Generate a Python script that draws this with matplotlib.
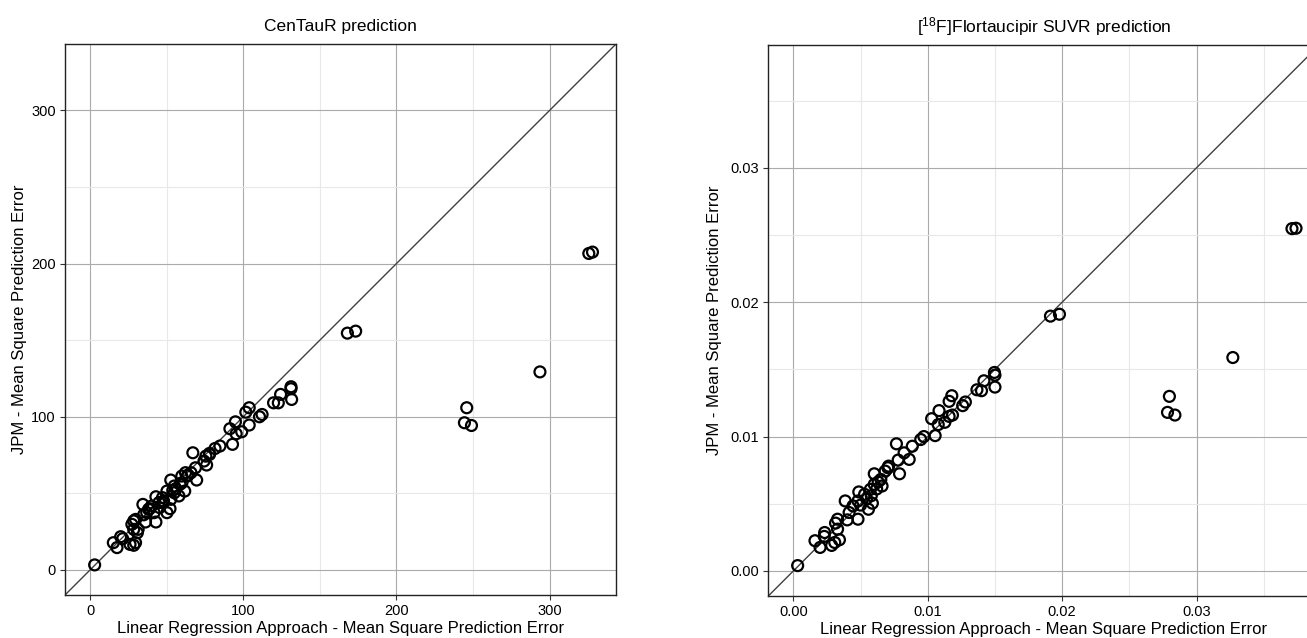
import matplotlib
matplotlib.use("Agg")
import matplotlib.pyplot as plt
from matplotlib.ticker import MultipleLocator, FixedLocator
import numpy as np

plt.rcParams['font.family'] = ['Liberation Sans', 'DejaVu Sans']
plt.rcParams['mathtext.fontset'] = 'custom'
plt.rcParams['mathtext.rm'] = 'Liberation Sans'

# ---- CenTauR data (Linear regression MSE, JPM MSE) ----
cen_lr = [3, 168, 173.4, 293.7, 245.9, 244.4, 249, 325.6, 328,
          131.2, 131.2, 131.6, 124.4, 119.8, 122.9, 112.3, 110.6, 103.9, 101.7,
          103.9, 99, 95.4, 94.9, 91.3, 93, 84.8, 81.6, 78, 76.1, 74.4, 67.1,
          68.8, 69.6, 62.3, 59.9, 61.8, 52.7, 55, 50.2, 58, 52.7, 47.3, 43,
          34.5, 40.1, 45.4, 52.2, 50.2, 37, 41.8, 36.2, 43, 28.5, 27.3, 28.5,
          30.9, 20, 15.2, 17.6, 21.3, 26.1, 29.7, 28.5, 31.4, 29.7, 38.2, 47.8,
          55, 58.7, 63.5, 65.9, 75.6, 78, 56, 54, 48, 45, 60, 64, 35, 39]
cen_jpm = [3.3, 154.6, 155.9, 129.3, 105.9, 96.1, 94.3, 206.6, 207.5,
           119.6, 118.3, 111.3, 114.6, 109.1, 109.1, 101.5, 100, 105.9, 103,
           94.6, 90.2, 88.9, 96.7, 92.2, 82, 80.9, 79.3, 76.1, 68.5, 71.1, 76.5,
           66.7, 58.7, 63.5, 61.3, 51.5, 58.7, 54.8, 51.5, 48.3, 46.1, 47.2, 47.8,
           42.8, 41.7, 40.7, 40, 37.4, 37.4, 37.4, 31.3, 31.3, 32, 29.8, 26.5,
           24.3, 21.7, 17.8, 14.6, 20.4, 16.7, 17.8, 16.1, 26.5, 33, 39.6, 43.9,
           50.4, 55.9, 61.3, 63.5, 74.3, 75.4, 53, 52, 45, 44, 57, 62, 36, 40]

# ---- [18F]Flortaucipir SUVR data ----
flo_lr = [0.00032, 0.01913, 0.0198, 0.0327, 0.02798, 0.02784, 0.02839, 0.0371, 0.0374,
          0.01496, 0.0150, 0.0150, 0.01418, 0.01366, 0.0140, 0.0128, 0.0126, 0.01179,
          0.01159, 0.01184, 0.01159, 0.01084, 0.01029, 0.01078, 0.01127, 0.01055,
          0.00971, 0.00948, 0.00885, 0.00862, 0.00824, 0.00767, 0.0078, 0.0079,
          0.00709, 0.00683, 0.00651, 0.00602, 0.00602, 0.00573, 0.0053, 0.00487,
          0.00588, 0.00559, 0.00481, 0.00444, 0.00386, 0.00415, 0.00481, 0.00401,
          0.00329, 0.00314, 0.00329, 0.00233, 0.00161, 0.00199, 0.0023, 0.00308,
          0.00343, 0.00285, 0.0066, 0.00703, 0.00631, 0.00545, 0.0062, 0.0058, 0.005]
flo_jpm = [0.0004, 0.01896, 0.0191, 0.01588, 0.01299, 0.0118, 0.0116, 0.02547, 0.0255,
           0.01477, 0.01457, 0.01368, 0.01415, 0.01348, 0.01341, 0.01257, 0.0123, 0.01304,
           0.01262, 0.0116, 0.0115, 0.01193, 0.01133, 0.01089, 0.01106, 0.01007,
           0.0100, 0.00978, 0.00928, 0.0083, 0.00879, 0.00946, 0.00825, 0.00723,
           0.0078, 0.00743, 0.00681, 0.00723, 0.00644, 0.00607, 0.0057, 0.00588,
           0.00504, 0.00459, 0.00521, 0.00484, 0.00521, 0.00435, 0.00385, 0.0038,
           0.00385, 0.00356, 0.00311, 0.00286, 0.00225, 0.00175, 0.00257, 0.00212,
           0.00232, 0.0019, 0.00632, 0.00768, 0.00662, 0.00538, 0.0061, 0.0056, 0.0049]

cen_ticks = [0, 100, 200, 300]
flo_ticks = [0.00, 0.01, 0.02, 0.03]
flo_ticklabels = ["0.00", "0.01", "0.02", "0.03"]

W, H = 1307, 638
fig = plt.figure(figsize=(W / 100, H / 100), dpi=100)

def panel(rect, x, y, lim, ticks, ticklabels, minor, title, ylabelpad):
    ax = fig.add_axes(rect)
    ax.set_xlim(lim)
    ax.set_ylim(lim)
    ax.xaxis.set_major_locator(FixedLocator(ticks))
    ax.yaxis.set_major_locator(FixedLocator(ticks))
    ax.xaxis.set_minor_locator(MultipleLocator(minor))
    ax.yaxis.set_minor_locator(MultipleLocator(minor))
    ax.set_xticklabels(ticklabels)
    ax.set_yticklabels(ticklabels)
    ax.grid(which='minor', color='#e8e8e8', lw=0.8)
    ax.grid(which='major', color='#aaaaaa', lw=0.8)
    ax.set_axisbelow(True)
    ax.tick_params(which='minor', length=0)
    ax.tick_params(which='major', length=3.5, width=0.8, color='#333333',
                   labelsize=10.5, pad=3)
    for s in ax.spines.values():
        s.set_color('#222222')
        s.set_linewidth(1.0)
    ax.axline((0, 0), slope=1, color='#404040', lw=1.0, zorder=2)
    ax.scatter(x, y, s=62, facecolors='none', edgecolors='black',
               linewidths=1.6, zorder=3)
    ax.set_xlabel("Linear Regression Approach - Mean Square Prediction Error",
                  fontsize=12, labelpad=2)
    ax.set_ylabel("JPM - Mean Square Prediction Error", fontsize=12,
                  labelpad=ylabelpad)
    ax.set_title(title, fontsize=12.5, pad=9)
    return ax

pw = 551 / W
ph = 551 / H
cen_max = 327.0
cen_lim = (-0.05 * cen_max, 1.05 * cen_max)
flo_max = 0.03727
flo_lim = (-0.05 * flo_max, 1.05 * flo_max)

panel([65 / W, 1 - 595 / H, pw, ph], cen_lr, cen_jpm, cen_lim, cen_ticks,
      [str(t) for t in cen_ticks], 50, "CenTauR prediction", 3)
panel([768.3 / W, 1 - 596 / H, pw, ph], flo_lr, flo_jpm, flo_lim, flo_ticks,
      flo_ticklabels, 0.005, r"[$\mathregular{^{18}}$F]Flortaucipir SUVR prediction", 6)

fig.savefig("out.png", dpi=100)
